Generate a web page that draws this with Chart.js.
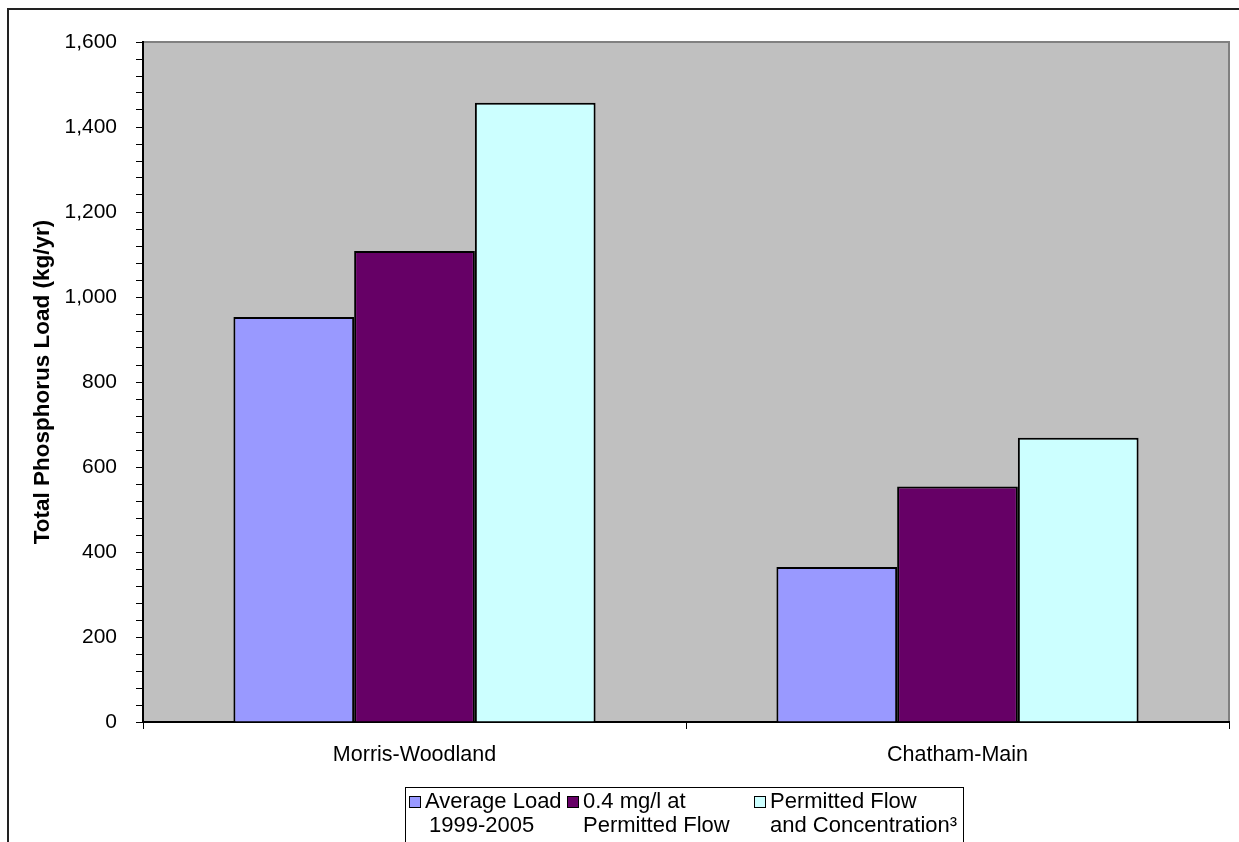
<!DOCTYPE html>
<html>
<head>
<meta charset="utf-8">
<script src="https://cdn.jsdelivr.net/npm/chart.js@4"></script>
<style>
  html, body { margin: 0; padding: 0; background: #fff; }
  #wrap { width: 1239px; height: 842px; position: relative; }
</style>
</head>
<body>
<div id="wrap"><canvas id="loadChart"></canvas></div>
<script>
const categories = ['Morris-Woodland', 'Chatham-Main'];
const averageLoad = [953, 365];
const atPermittedFlow = [1108, 554];
const permittedConc = [1457, 669];
const seriesLabels = [
  ['Average Load', '1999-2005'],
  ['0.4 mg/l at', 'Permitted Flow'],
  ['Permitted Flow', 'and Concentration\u00b3']
];
const yTickLabels = ['0', '200', '400', '600', '800', '1,000', '1,200', '1,400', '1,600'];

const FONT = '"Liberation Sans", Arial, sans-serif';
const ctx = document.getElementById('loadChart');

// grey plot area + outer frame + excel style legend
const excelLook = {
  id: 'excelLook',
  beforeDraw(chart) {
    const c = chart.ctx;
    const a = chart.chartArea;
    c.save();
    c.fillStyle = '#c0c0c0';
    c.fillRect(a.left, a.top, a.right - a.left, a.bottom - a.top);
    c.strokeStyle = '#808080';
    c.lineWidth = 2;
    c.beginPath();
    c.moveTo(a.left, a.top);
    c.lineTo(a.right, a.top);
    c.lineTo(a.right, a.bottom);
    c.stroke();
    c.restore();
  },
  afterDraw(chart) {
    const c = chart.ctx;
    c.save();
    // outer frame
    c.strokeStyle = '#222';
    c.lineWidth = 2;
    c.beginPath();
    c.moveTo(8, 860);
    c.lineTo(8, 9);
    c.lineTo(1250, 9);
    c.stroke();

    // legend
    const lx = 405, ly = 787;
    const cols = [4, 162, 349];
    c.font = '22px ' + FONT;
    c.textBaseline = 'middle';
    c.textAlign = 'left';
    let widest = 0;
    seriesLabels[2].forEach(t => { widest = Math.max(widest, c.measureText(t).width); });
    const boxW = cols[2] + 16 + widest + 6;
    c.lineWidth = 1;
    c.strokeStyle = '#000';
    c.strokeRect(lx + 0.5, ly + 0.5, Math.round(boxW), 80);
    chart.data.datasets.forEach((ds, i) => {
      const x = lx + cols[i];
      const y = ly + 15;
      c.fillStyle = ds.backgroundColor;
      c.fillRect(x, y - 6, 12, 12);
      c.strokeStyle = '#000';
      c.strokeRect(x + 0.5, y - 5.5, 11, 11);
      c.fillStyle = '#000';
      seriesLabels[i].forEach((line, j) => {
        c.fillText(line, x + 16 + (i === 0 && j ? 4 : 0), y + j * 24);
      });
    });
    c.restore();
  }
};

new Chart(ctx, {
  type: 'bar',
  data: {
    labels: categories,
    datasets: [
      { label: seriesLabels[0].join(' '), data: averageLoad, backgroundColor: '#9999ff' },
      { label: seriesLabels[1].join(' '), data: atPermittedFlow, backgroundColor: '#660066' },
      { label: seriesLabels[2].join(' '), data: permittedConc, backgroundColor: '#ccffff' }
    ]
  },
  options: {
    responsive: true,
    maintainAspectRatio: false,
    animation: false,
    layout: { padding: { top: 42, right: 10, bottom: 60, left: 0 } },
    datasets: {
      bar: {
        borderColor: '#000',
        borderWidth: 2,
        categoryPercentage: 0.667,
        barPercentage: 1
      }
    },
    plugins: {
      legend: { display: false },
      tooltip: { enabled: false }
    },
    scales: {
      x: {
        offset: true,
        grid: {
          offset: true,
          drawOnChartArea: false,
          tickLength: 7,
          color: (c) => c.index === categories.length ? '#808080' : '#000'
        },
        border: { color: '#000', width: 2 },
        ticks: {
          color: '#000',
          padding: 13,
          font: { family: FONT, size: 21.5 }
        },
        afterFit(scale) { scale.height = 60; }
      },
      y: {
        min: 0,
        max: 1600,
        grid: {
          drawOnChartArea: false,
          tickLength: 7,
          color: '#000'
        },
        border: { color: '#000', width: 2 },
        ticks: {
          stepSize: 40,
          autoSkip: false,
          color: '#000',
          padding: 19,
          font: { family: FONT, size: 21 },
          callback: (v) => v % 200 === 0 ? yTickLabels[v / 200] : ''
        },
        title: {
          display: true,
          text: 'Total Phosphorus Load (kg/yr)',
          color: '#000',
          padding: { top: 29, bottom: 0 },
          font: { family: FONT, size: 22.5, weight: 'bold' }
        },
        afterFit(scale) { scale.width = 143; }
      }
    }
  },
  plugins: [excelLook]
});
</script>
</body>
</html>
